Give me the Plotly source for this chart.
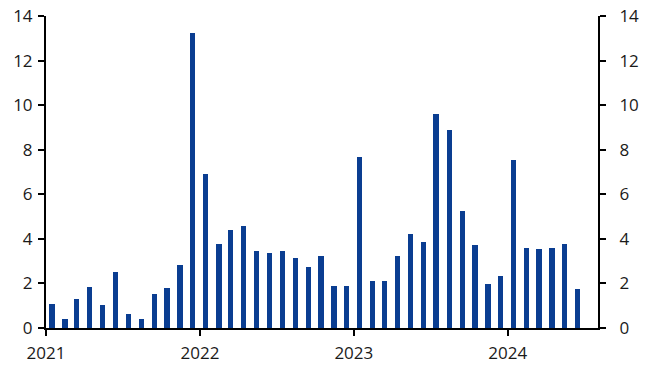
import plotly.graph_objects as go
import pandas as pd

values = [
    1.09, 0.42, 1.31, 1.82, 1.02, 2.52, 0.61, 0.39, 1.51, 1.78, 2.81, 13.24,
    6.93, 3.75, 4.39, 4.56, 3.44, 3.35, 3.44, 3.12, 2.72, 3.21, 1.87, 1.87,
    7.69, 2.12, 2.12, 3.21, 4.24, 3.84, 9.62, 8.90, 5.27, 3.71, 1.96, 2.32,
    7.56, 3.57, 3.53, 3.57, 3.75, 1.73,
]
year_ticks = ["2021-01-01", "2022-01-01", "2023-01-01", "2024-01-01"]
year_labels = ["2021", "2022", "2023", "2024"]
y_ticks = [0, 2, 4, 6, 8, 10, 12, 14]

months = pd.date_range("2021-01-01", periods=len(values), freq="MS") + pd.Timedelta(days=14)

fig = go.Figure()
fig.add_trace(go.Bar(
    x=months, y=values, marker_color="#0a3d91", marker_line_width=0,
    width=12.5 * 86400000, showlegend=False,
))
fig.add_trace(go.Scatter(x=[months[0]], y=[0], yaxis="y2", mode="markers",
                         marker_opacity=0, showlegend=False, hoverinfo="skip"))

font = dict(family="Open Sans, Noto Sans, sans-serif", size=17, color="#1a1a1a")
axis_common = dict(range=[0, 14], tickvals=y_ticks, showgrid=False, zeroline=False,
                   showline=True, linecolor="black", linewidth=2,
                   ticks="outside", ticklen=6, tickwidth=2, tickcolor="black",
                   tickfont=font, automargin=False)
fig.update_layout(
    width=645, height=374,
    margin=dict(l=46, r=47, t=16, b=46),
    plot_bgcolor="white", paper_bgcolor="white",
    bargap=0,
    xaxis=dict(type="date", range=["2021-01-01", "2024-08-02"],
               tickvals=year_ticks, ticktext=year_labels,
               showgrid=False, zeroline=False, showline=True, linecolor="black",
               linewidth=2, ticks="outside", ticklen=6, tickwidth=2,
               tickcolor="black", tickfont=font, automargin=False,
               ticklabelstandoff=3),
    yaxis=dict(side="left", ticklabelstandoff=2, **axis_common),
    yaxis2=dict(side="right", overlaying="y", ticklabelstandoff=10, **axis_common),
)
fig.write_html("out.html")
